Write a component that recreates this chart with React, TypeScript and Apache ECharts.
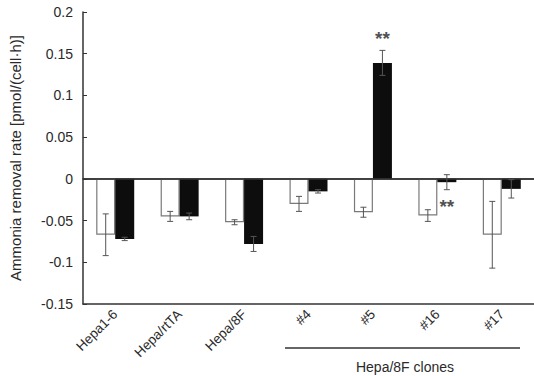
import React, { useEffect, useRef } from "react";
import * as echarts from "echarts";

const categories = ["Hepa1-6", "Hepa/rtTA", "Hepa/8F", "#4", "#5", "#16", "#17"];
const controlValues = [-0.067, -0.045, -0.052, -0.03, -0.04, -0.044, -0.067];
const controlErrors = [0.025, 0.006, 0.003, 0.009, 0.006, 0.007, 0.04];
const treatedValues = [-0.072, -0.045, -0.078, -0.015, 0.139, -0.004, -0.012];
const treatedErrors = [0.002, 0.004, 0.009, 0.002, 0.015, 0.009, 0.011];
const significance = [
  { category: "#5", value: 0.173 },
  { category: "#16", value: -0.028 },
];
const yTicks = { min: -0.15, max: 0.2, interval: 0.05 };
const groupLabel = "Hepa/8F clones";
const yTitle = "Ammonia removal rate [pmol/(cell\u00b7h)]";

const BAR_W = 19;
const FONT = "Liberation Sans, Arial, sans-serif";
const TXT = "#2a2a2a";

export default function App() {
  const ref = useRef<HTMLDivElement>(null);
  useEffect(() => {
    if (!ref.current) return;
    const chart = echarts.init(ref.current, null, { renderer: "svg" });

    const errData: any[] = [];
    categories.forEach((_, i) => {
      errData.push([i, controlValues[i] - controlErrors[i], controlValues[i] + controlErrors[i], -1]);
      errData.push([i, treatedValues[i] - treatedErrors[i], treatedValues[i] + treatedErrors[i], 1]);
    });

    const option: any = {
      animation: false,
      textStyle: { fontFamily: FONT },
      grid: { left: 83, top: 12, width: 454, height: 292 },
      xAxis: [
        {
          type: "category",
          data: categories,
          axisLine: { onZero: false, lineStyle: { color: "#333", width: 1.5 } },
          axisTick: { show: false },
          axisLabel: { rotate: 45, margin: 8, fontSize: 13.5, color: TXT, fontFamily: FONT },
        },
        {
          type: "category",
          data: categories,
          position: "top",
          axisLine: { show: true, lineStyle: { color: "#333", width: 1.5 } },
          axisTick: { show: false },
          axisLabel: { show: false },
        },
      ],
      yAxis: {
        type: "value",
        min: yTicks.min,
        max: yTicks.max,
        interval: yTicks.interval,
        name: yTitle,
        nameLocation: "middle",
        nameGap: 60,
        nameTextStyle: { fontSize: 15, color: TXT, fontFamily: FONT },
        axisLine: { show: true, lineStyle: { color: "#333", width: 1.5 } },
        axisTick: { show: true, inside: true, length: 4, lineStyle: { color: "#333" } },
        axisLabel: {
          fontSize: 14,
          color: TXT,
          margin: 10,
          fontFamily: FONT,
          formatter: (v: number) => {
            const r = Math.round(v * 100) / 100;
            return r === 0 ? "0" : String(r);
          },
        },
        splitLine: { show: false },
      },
      series: [
        {
          type: "bar",
          data: controlValues,
          barWidth: BAR_W,
          barGap: "0%",
          itemStyle: { color: "#ffffff", borderColor: "#7a7a7a", borderWidth: 1.2 },
          markLine: {
            silent: true,
            symbol: "none",
            label: { show: false },
            lineStyle: { color: "#333", width: 1.5, type: "solid" },
            data: [{ yAxis: 0 }],
          },
        },
        {
          type: "bar",
          data: treatedValues,
          barWidth: BAR_W,
          barGap: "0%",
          itemStyle: { color: "#0d0d0d" },
        },
        {
          type: "custom",
          data: errData,
          z: 10,
          renderItem: (params: any, api: any) => {
            const c = api.coord([api.value(0), 0])[0] + (api.value(3) * BAR_W) / 2;
            const lo = api.coord([api.value(0), api.value(1)])[1];
            const hi = api.coord([api.value(0), api.value(2)])[1];
            const cap = 3;
            const style = { stroke: "#555", lineWidth: 1 };
            return {
              type: "group",
              children: [
                { type: "line", shape: { x1: c, y1: lo, x2: c, y2: hi }, style },
                { type: "line", shape: { x1: c - cap, y1: lo, x2: c + cap, y2: lo }, style },
                { type: "line", shape: { x1: c - cap, y1: hi, x2: c + cap, y2: hi }, style },
              ],
            };
          },
        },
        {
          type: "scatter",
          symbolSize: 0,
          data: significance.map((s) => [s.category, s.value]),
          z: 11,
          label: {
            show: true,
            position: "inside",
            offset: [BAR_W / 2, 4],
            formatter: "**",
            fontSize: 19,
            fontWeight: "bold",
            color: "#222",
            fontFamily: FONT,
          },
        },
      ],
      graphic: [
        { type: "line", shape: { x1: 285, y1: 348, x2: 520, y2: 348 }, style: { stroke: "#333", lineWidth: 1.3 } },
        {
          type: "text",
          x: 405,
          y: 367,
          style: { text: groupLabel, fontSize: 14, fill: TXT, fontFamily: FONT, align: "center", verticalAlign: "middle" },
        },
      ],
    };
    chart.setOption(option);
    return () => chart.dispose();
  }, []);
  return (
    <div
      ref={ref}
      style={{ position: "fixed", left: 0, top: 0, width: 534, height: 376, background: "#fff" }}
    />
  );
}
